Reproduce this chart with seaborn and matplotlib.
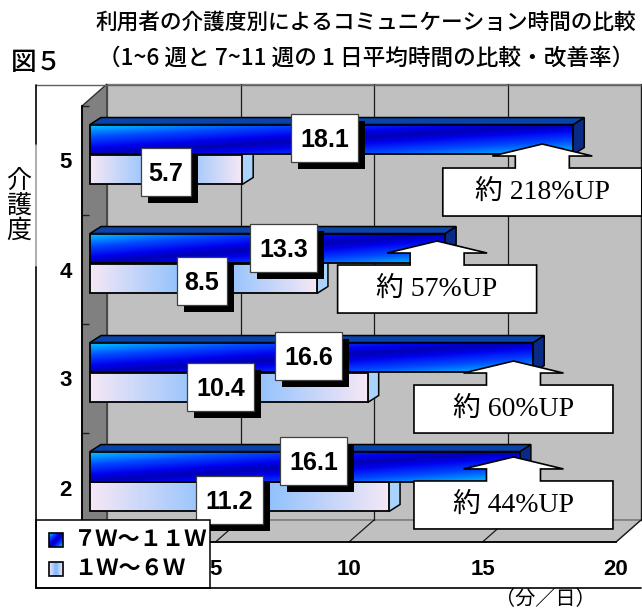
import numpy as np
import pandas as pd
import matplotlib
matplotlib.use("Agg")
import matplotlib.pyplot as plt
import matplotlib.transforms as mtransforms
from matplotlib.colors import LinearSegmentedColormap
from matplotlib.patches import Polygon, Rectangle
import seaborn as sns

# ---- data -------------------------------------------------------------
levels = ["5", "4", "3", "2"]                      # 介護度
series_names = ["７Ｗ～１１Ｗ", "１Ｗ～６Ｗ"]
late_minutes = [18.1, 13.3, 16.6, 16.1]            # 7～11週 平均 (分/日)
early_minutes = [5.7, 8.5, 10.4, 11.2]             # 1～6週 平均 (分/日)
gain_labels = ["約 218%UP", "約 57%UP", "約 60%UP", "約 44%UP"]
x_ticks = [5, 10, 15, 20]

# callout placement (box top centre, data units)
callout_x = [17.24, 13.30, 16.16, 16.16]
callout_y = [0.069, 0.959, 2.060, 2.940]

# fine placement of the value labels around each bar centre (pixels, +y down)
label_shift = {
    0: [(-7, -2), (16, -1), (-3, -2), (8.5, -6)],
    1: [(0, 3), (-1.5, 2.5), (-8, 0), (-10, 3.5)],
}

title = "利用者の介護度別によるコミュニケーション時間の比較"
subtitle = "（1~6 週と 7~11 週の 1 日平均時間の比較・改善率）"

# ---- figure -----------------------------------------------------------
W, H, DPI = 642, 612, 100
sns.set_theme(style="white")
plt.rcParams["font.family"] = ["Noto Sans CJK JP", "DejaVu Sans"]

fig = plt.figure(figsize=(W / DPI, H / DPI), dpi=DPI)
fig.patch.set_facecolor("white")

# front plane of the 3-D box, in pixels
L, R, T, B = 82, 616, 106, 542
ax = fig.add_axes([L / W, 1 - B / H, (R - L) / W, (B - T) / H])
ax.patch.set_visible(False)

df = pd.DataFrame({
    "level": levels * 2,
    "period": [series_names[0]] * len(levels) + [series_names[1]] * len(levels),
    "minutes": late_minutes + early_minutes,
})
sns.barplot(data=df, x="minutes", y="level", hue="period", order=levels,
            hue_order=series_names, orient="h", width=0.55, saturation=1,
            errorbar=None, legend=False, ax=ax)
bars = [p for p in ax.patches if isinstance(p, Rectangle)]
ax.set_xlim(0, 20)
ax.set_ylim(3.5, -0.5)
ax.set_xlabel("")
ax.set_ylabel("")

px_x = (R - L) / 20.0
px_y = (B - T) / 4.0

# depth of the box and of each bar, converted from pixels to data units
dX, dY = 25 / px_x, -22 / px_y
bdx, bdy = 11 / px_x, -7 / px_y

# ---- walls, floor, grid ----------------------------------------------
ax.add_patch(Rectangle((dX, -0.5 + dY), 20, 4, fc="#C0C0C0", ec="#808080",
                       lw=1, zorder=0.2, clip_on=False))
ax.add_patch(Polygon([(0, -0.5), (dX, -0.5 + dY), (dX, 3.5 + dY), (0, 3.5)],
                     closed=True, fc="#808080", ec="#303030", lw=1,
                     zorder=0.3, clip_on=False))
ax.add_patch(Polygon([(0, 3.5), (dX, 3.5 + dY), (20 + dX, 3.5 + dY), (20, 3.5)],
                     closed=True, fc="#C0C0C0", ec="#707070", lw=1,
                     zorder=0.3, clip_on=False))
for k in x_ticks:
    ax.plot([k + dX, k + dX], [-0.5 + dY, 3.5 + dY], color="#1a1a1a", lw=0.9,
            zorder=0.4, clip_on=False)
    ax.plot([k, k + dX], [3.5, 3.5 + dY], color="#1a1a1a", lw=0.9,
            zorder=0.4, clip_on=False)

# ---- bar shading --------------------------------------------------------
cmap_late = LinearSegmentedColormap.from_list(
    "late", [(0, "#00CCFF"), (0.45, "#0048FF"), (0.8, "#0000EE"), (1, "#0000B4")])
cmap_early = LinearSegmentedColormap.from_list(
    "early", [(0, "#F6E8F6"), (1, "#78B8FF")])


def shade(kind, nx=300, ny=40):
    u = np.linspace(0, 1, nx)[None, :]
    v = np.linspace(0, 1, ny)[:, None]
    if kind == 0:
        t = (u + v) / 2
        return cmap_late(1 - np.abs(2 * t - 1))
    return cmap_early(1 - np.abs(2 * u - 1) + 0 * v)


bar_tr = mtransforms.offset_copy(ax.transData, fig=fig, x=8, y=6, units="dots")

for p in bars:
    yc = p.get_y() + p.get_height() / 2
    cat = int(round(yc))
    kind = 0 if yc < cat else 1
    x0, x1 = p.get_x(), p.get_x() + p.get_width()
    y0, y1 = p.get_y(), p.get_y() + p.get_height()
    z = 3 if kind == 0 else 2
    side_fc = "#0A2A88" if kind == 0 else "#A9D3FA"
    ax.add_patch(Polygon([(x1, y0), (x1, y1), (x1 + bdx, y1 + bdy), (x1 + bdx, y0 + bdy)],
                         closed=True, fc=side_fc, ec="black", lw=1.1,
                         transform=bar_tr, zorder=z, clip_on=False))
    if kind == 0:
        ax.add_patch(Polygon([(x0, y0), (x1, y0), (x1 + bdx, y0 + bdy), (x0 + bdx, y0 + bdy)],
                             closed=True, fc="#0A44AA", ec="black", lw=1.1,
                             transform=bar_tr, zorder=z, clip_on=False))
    ax.imshow(shade(kind), extent=[x0, x1, y1, y0], aspect="auto",
              interpolation="bilinear", transform=bar_tr, zorder=z + 0.1)
    p.set_transform(bar_tr)
    p.set_facecolor("none")
    p.set_edgecolor("black")
    p.set_linewidth(1.3)
    p.set_zorder(z + 0.2)
    p.set_clip_on(False)

    # value label: white box with a black drop shadow, sized in pixels
    txt = f"{p.get_width():.1f}"
    sx, sy = label_shift[kind][cat]
    tr = (fig.dpi_scale_trans
          + mtransforms.ScaledTranslation((x0 + x1) / 2, (y0 + y1) / 2, bar_tr)
          + mtransforms.Affine2D().translate(sx, -sy))
    bw, bh = 16.5 * len(txt) + 1, 48
    zl = 5.3 if kind == 0 else 5.0
    ax.add_patch(Rectangle((-bw / 2 / DPI + 0.07, -bh / 2 / DPI - 0.07), bw / DPI, bh / DPI,
                           fc="black", ec="none", transform=tr, zorder=zl, clip_on=False))
    ax.add_patch(Rectangle((-bw / 2 / DPI, -bh / 2 / DPI), bw / DPI, bh / DPI,
                           fc="white", ec="#404040", lw=0.9, transform=tr,
                           zorder=zl + 0.1, clip_on=False))
    ax.text(0, -0.09, txt, transform=tr, ha="center", va="baseline", fontsize=18,
            fontweight="bold", family="Liberation Sans", color="black",
            zorder=zl + 0.2, clip_on=False)

ax.set_xlim(0, 20)
ax.set_ylim(3.5, -0.5)

# ---- improvement callouts ---------------------------------------------
shape_px = [(0, -24), (50, -12), (27, -12), (27, 0), (99.5, 0), (99.5, 48),
            (-99.5, 48), (-99.5, 0), (-27, 0), (-27, -12), (-50, -12)]
shape_in = [(x / DPI, -y / DPI) for x, y in shape_px]
for cx, cy, lab in zip(callout_x, callout_y, gain_labels):
    tr = fig.dpi_scale_trans + mtransforms.ScaledTranslation(cx, cy, ax.transData)
    ax.add_patch(Polygon(shape_in, closed=True, fc="white", ec="black", lw=1.2,
                         transform=tr, zorder=4.5, clip_on=False))
    ax.text(0, -0.245, lab, transform=tr, ha="center", va="center", fontsize=20,
            family=["Liberation Serif", "Noto Sans CJK JP"], color="black",
            zorder=4.6, clip_on=False)

# ---- axes styling -------------------------------------------------------
for side in ("top", "right"):
    ax.spines[side].set_visible(False)
for side in ("left", "bottom"):
    ax.spines[side].set_color("black")
    ax.spines[side].set_linewidth(1.3)
    ax.spines[side].set_zorder(0.6)

ax.set_xticks(x_ticks)
ax.set_xticklabels([str(v) for v in x_ticks])
ax.set_yticks(range(len(levels)))
ax.set_yticklabels(levels)
ax.set_yticks([-0.5, 0.5, 1.5, 2.5, 3.5], minor=True)
ax.tick_params(axis="x", which="major", direction="in", length=6, width=1,
               color="black", pad=12.5, labelsize=16)
ax.tick_params(axis="y", which="major", length=0, pad=7.5, labelsize=16)
ax.tick_params(axis="y", which="minor", direction="in", length=5, width=1,
               color="#202020", left=True)
for lbl in ax.get_xticklabels() + ax.get_yticklabels():
    lbl.set_fontfamily("Liberation Sans")
    lbl.set_fontweight("bold")
    lbl.set_color("black")

# ---- overlay: titles, frame, legend --------------------------------------
ov = fig.add_axes([0, 0, 1, 1], zorder=10)
ov.set_xlim(0, W)
ov.set_ylim(H, 0)
ov.axis("off")
ov.patch.set_visible(False)

ov.plot([36, 641], [85, 85], color="#606060", lw=1)
ov.plot([36, 36], [85, 145], color="black", lw=1.2)
ov.plot([36, 36], [145, 267], color="#A0A0A0", lw=1.2)
ov.plot([36, 36], [267, 588], color="black", lw=1.2)
ov.plot([36, 641], [588, 588], color="black", lw=1.2)

ov.text(366, 23, title, ha="center", va="center", fontsize=15.6,
        fontweight="medium", color="black")
ov.text(366, 58, subtitle, ha="center", va="center", fontsize=16.3,
        fontweight="medium", color="black")
ov.text(11, 63, "図５", ha="left", va="center", fontsize=18.5,
        fontweight="medium", color="black")
ov.text(19, 206, "介\n護\n度", ha="center", va="center", fontsize=18,
        linespacing=0.95, color="black")

ov.add_patch(Rectangle((465, 579), 148, 40, fc="white", ec="none"))
ov.text(545, 600, "（分／日）", ha="center", va="center", fontsize=14.5, color="black")

# legend
ov.add_patch(Rectangle((36, 520), 174, 68, fc="white", ec="black", lw=1.1))
for i, name in enumerate(series_names):
    yc = 540 + 29 * i
    ov.imshow(shade(i, 20, 20), extent=[49, 63, yc + 7, yc - 7], aspect="auto",
              interpolation="bilinear", zorder=3)
    ov.add_patch(Rectangle((49, yc - 7), 14, 14, fc="none", ec="black", lw=1.2, zorder=4))
    ov.text(74, yc, name, ha="left", va="center", fontsize=16, fontweight="bold",
            color="black", zorder=4)
ov.set_xlim(0, W)
ov.set_ylim(H, 0)

fig.savefig("out.png", dpi=DPI)
